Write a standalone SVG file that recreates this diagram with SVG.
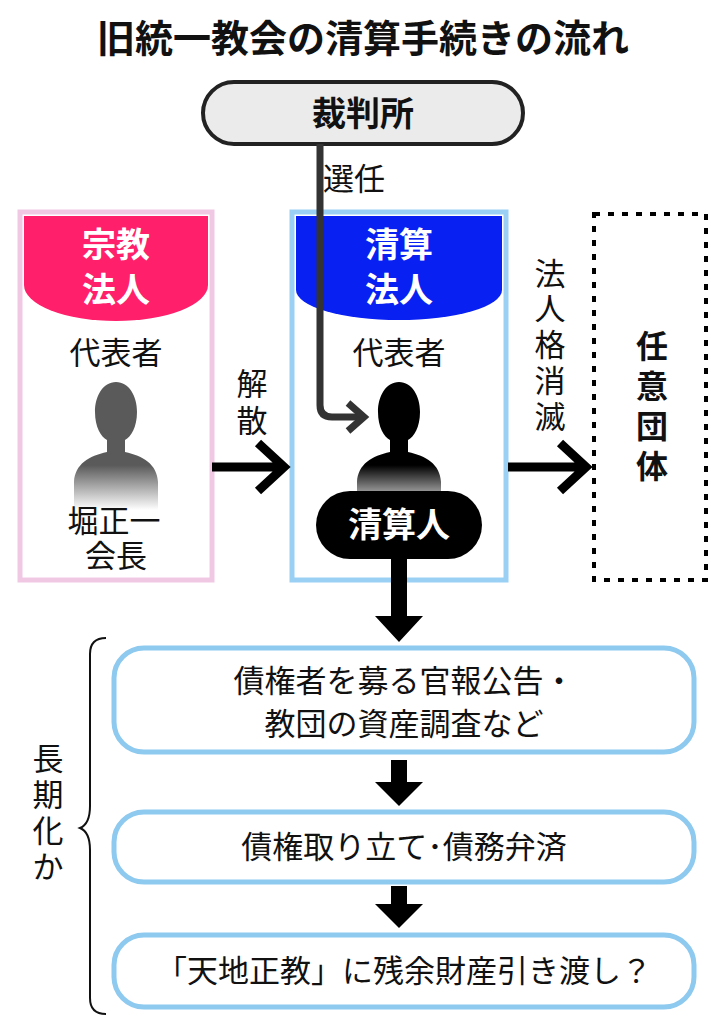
<svg xmlns="http://www.w3.org/2000/svg" width="726" height="1024" viewBox="0 0 726 1024">
<defs>
<style>
text{font-family:"Noto Sans CJK JP","Noto Sans",sans-serif;fill:#111}
.t{font-size:31px;text-anchor:middle}
.w{fill:#fff;font-weight:bold;font-size:34px;text-anchor:middle}
.v{font-size:32px;font-weight:bold;text-anchor:middle}
.step{fill:#fff;stroke:#8ec9ef;stroke-width:5}
.ln{fill:none;stroke:#000;stroke-width:9}
</style>
<linearGradient id="fg" x1="0" y1="0" x2="0" y2="1"><stop offset="0.65" stop-color="#5a5a5a"/><stop offset="1" stop-color="#5a5a5a" stop-opacity="0"/></linearGradient>
<linearGradient id="fb" x1="0" y1="0" x2="0" y2="1"><stop offset="0.65" stop-color="#000"/><stop offset="1" stop-color="#000" stop-opacity="0"/></linearGradient>
</defs>
<rect width="726" height="1024" fill="#fff"/>
<text x="363" y="52" class="t" style="font-size:38px;font-weight:bold">旧統一教会の清算手続きの流れ</text>

<g id="court"><rect x="203" y="82" width="320" height="62" rx="31" fill="#ebebeb" stroke="#222" stroke-width="4"/><text x="363" y="126" class="t" style="font-size:34px;font-weight:bold">裁判所</text></g>

<g id="religious">
<rect x="20" y="212" width="192" height="368" fill="#fff" stroke="#f0c8e4" stroke-width="5"/>
<path d="M24 216H208V285A92 36 0 0 1 24 285Z" fill="#ff1f6a"/>
<text x="116" y="257" class="w">宗教</text><text x="116" y="302" class="w">法人</text>
<text x="116" y="364" class="t">代表者</text>
<path d="M116 382c-13 0-21 14-21 30 0 15 6 25 12 28v12c-18 4-32 12-33 30v28h84v-28c-1-18-15-26-33-30v-12c6-3 12-13 12-28 0-16-8-30-21-30z" fill="url(#fg)"/>
<text x="114" y="532" class="t">堀正一</text><text x="116" y="567" class="t">会長</text>
</g>

<g id="liquidation">
<rect x="292" y="212" width="214" height="368" fill="#fff" stroke="#9ad0f3" stroke-width="5"/>
<path d="M296 216H502V290A103 30 0 0 1 296 290Z" fill="#0820f2"/>
<text x="399" y="257" class="w">清算</text><text x="399" y="302" class="w">法人</text>
<text x="399" y="364" class="t">代表者</text>
<path d="M399 382c-13 0-21 14-21 30 0 15 6 25 12 28v12c-18 4-32 12-33 30v28h84v-28c-1-18-15-26-33-30v-12c6-3 12-13 12-28 0-16-8-30-21-30z" fill="url(#fb)"/>
<rect x="316" y="491" width="166" height="68" rx="34" fill="#000"/>
<text x="399" y="537" class="w">清算人</text>
</g>

<g id="voluntary">
<rect x="594" y="214" width="112" height="366" fill="none" stroke="#000" stroke-width="4" stroke-dasharray="6 8"/>
<text x="652" y="358" class="v">任</text>
<text x="652" y="398" class="v">意</text>
<text x="652" y="438" class="v">団</text>
<text x="652" y="478" class="v">体</text>
</g>

<g id="s1"><rect x="114" y="648" width="580" height="104" rx="30" class="step"/><text x="404" y="692" class="t">債権者を募る官報公告・</text><text x="404" y="735" class="t">教団の資産調査など</text></g>
<g id="s2"><rect x="114" y="812" width="580" height="70" rx="30" class="step"/><text x="404" y="858" class="t">債権取り立て･債務弁済</text></g>
<g id="s3"><rect x="114" y="935" width="580" height="72" rx="30" class="step"/><text x="404" y="982" class="t">「天地正教」に残余財産引き渡し？</text></g>

<g id="connectors">
<path d="M320 144V405q0 12 12 12h32" fill="none" stroke="#333" stroke-width="7"/>
<path d="M348 403l16 14-16 14" fill="none" stroke="#333" stroke-width="7"/>
<text x="354" y="190" class="t">選任</text>
<path class="ln" d="M212 467H284M258 443l26 24-26 24"/>
<text x="252" y="395" class="t">解</text><text x="252" y="432" class="t">散</text>
<path class="ln" d="M508 467H586M560 443l26 24-26 24"/>
<text x="550" y="285" class="t">法</text><text x="550" y="320" class="t">人</text><text x="550" y="356" class="t">格</text><text x="550" y="392" class="t">消</text><text x="550" y="428" class="t">滅</text>
<path d="M391 559V616H375L399 642L423 616H407V559Z" fill="#000"/>
<path d="M391 760V782H375L399 806L423 782H407V760Z" fill="#000"/>
<path d="M391 886V904H375L399 928L423 904H407V886Z" fill="#000"/>
<path d="M106 638q-16 0-16 16V806q0 18-10 22 10 4 10 22V998q0 16 16 16" fill="none" stroke="#111" stroke-width="2"/>
<text x="48" y="770" class="t">長</text><text x="48" y="806" class="t">期</text><text x="48" y="842" class="t">化</text><text x="48" y="878" class="t">か</text>
</g>
</svg>
